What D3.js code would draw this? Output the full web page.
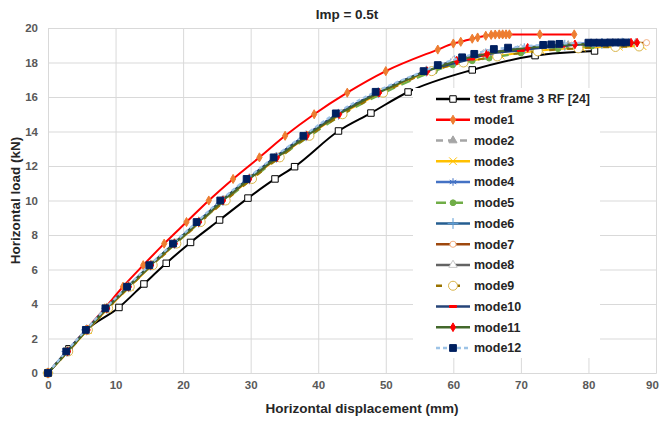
<!DOCTYPE html>
<html>
<head>
<meta charset="utf-8">
<script src="https://cdn.jsdelivr.net/npm/d3@7"></script>
<style>
  body { margin: 0; background: #fff; }
  svg { font-family: "Liberation Sans", Arial, sans-serif; }
</style>
</head>
<body>
<script>
const W = 660, H = 421
const margin = {top: 28, left: 48, bottom: 48, right: 4}

const xTicks = [0, 10, 20, 30, 40, 50, 60, 70, 80, 90]
const yTicks = [0, 2, 4, 6, 8, 10, 12, 14, 16, 18, 20]

// test frame
const testX = [0, 3.1, 5.7, 10.5, 14.2, 17.5, 21.1, 25.4, 29.6, 33.6, 36.5, 43.0, 47.8, 53.3, 62.8, 72.1, 80.9]
const testY = [0, 1.4, 2.5, 3.8, 5.16, 6.36, 7.57, 8.87, 10.14, 11.25, 11.96, 14.03, 15.07, 16.29, 17.57, 18.4, 18.67]

const mode1X = [0, 2.8, 5.6, 8.4, 11.1, 14.1, 17.2, 20.5, 23.8, 27.4, 31.3, 35.1, 39.4, 44.3, 50.0, 57.7, 60.0, 61.1, 62.8, 63.6, 64.8, 65.6, 66.2, 66.8, 67.3, 67.8, 68.3, 72.8, 77.9]
const mode1Y = [0, 1.25, 2.5, 3.75, 5, 6.25, 7.5, 8.75, 10, 11.25, 12.5, 13.75, 15, 16.25, 17.5, 18.75, 19.1, 19.2, 19.38, 19.45, 19.55, 19.6, 19.62, 19.63, 19.63, 19.63, 19.63, 19.63, 19.63]

const mode2X = [0, 2.9, 5.8, 8.8, 12.0, 15.3, 18.8, 22.4, 26.0, 29.8, 33.9, 38.3, 43.1, 49.0, 56.0, 60.5, 65.5, 71.0, 77.0, 83.0, 87.0]
const mode2Y = [0, 1.25, 2.5, 3.75, 5, 6.25, 7.5, 8.75, 10, 11.25, 12.5, 13.75, 15, 16.25, 17.5, 18.1, 18.5, 18.8, 19.0, 19.1, 19.12]

const mode3X = [0, 3.0, 5.9, 8.9, 12.1, 15.4, 18.9, 22.5, 26.1, 30.0, 34.1, 38.5, 43.4, 49.4, 56.6, 61.5, 67.0, 73.0, 79.0, 84.5, 88.0]
const mode3Y = [0, 1.25, 2.5, 3.75, 5, 6.25, 7.5, 8.75, 10, 11.25, 12.5, 13.75, 15, 16.25, 17.5, 18.0, 18.4, 18.7, 18.85, 18.92, 18.95]

const mode4X = [0, 2.8, 5.7, 8.6, 11.8, 15.1, 18.6, 22.1, 25.7, 29.6, 33.6, 38.0, 42.8, 48.7, 55.8, 60.0, 64.5, 70.0, 76.0, 82.0, 86.0]
const mode4Y = [0, 1.25, 2.5, 3.75, 5, 6.25, 7.5, 8.75, 10, 11.25, 12.5, 13.75, 15, 16.25, 17.5, 18.1, 18.5, 18.85, 19.05, 19.15, 19.18]

const mode5X = [0, 2.9, 5.8, 8.8, 12.0, 15.4, 18.9, 22.5, 26.2, 30.2, 34.3, 38.8, 43.7, 49.8, 57.2, 59.9, 62.8, 65.3, 70.0, 75.5, 80.5]
const mode5Y = [0, 1.25, 2.5, 3.75, 5, 6.25, 7.5, 8.75, 10, 11.25, 12.5, 13.75, 15, 16.25, 17.5, 17.86, 18.1, 18.25, 18.55, 18.8, 18.95]

const mode6X = [0, 2.8, 5.7, 8.7, 11.9, 15.2, 18.7, 22.3, 25.9, 29.8, 33.8, 38.2, 43.0, 48.9, 56.0, 60.2, 64.8, 70.5, 76.5, 82.0, 85.0]
const mode6Y = [0, 1.25, 2.5, 3.75, 5, 6.25, 7.5, 8.75, 10, 11.25, 12.5, 13.75, 15, 16.25, 17.5, 18.1, 18.5, 18.8, 19.0, 19.1, 19.12]

const mode7X = [0, 2.9, 5.8, 8.8, 12.0, 15.3, 18.8, 22.4, 26.0, 29.9, 34.0, 38.4, 43.2, 49.1, 56.2, 60.5, 65.0, 71.0, 77.5, 84.0, 88.6]
const mode7Y = [0, 1.25, 2.5, 3.75, 5, 6.25, 7.5, 8.75, 10, 11.25, 12.5, 13.75, 15, 16.25, 17.5, 18.1, 18.5, 18.8, 19.0, 19.12, 19.15]

const mode8X = [0, 2.8, 5.7, 8.7, 11.9, 15.2, 18.7, 22.3, 25.8, 29.7, 33.7, 38.1, 42.9, 48.8, 55.9, 60.0, 64.5, 70.0, 76.0, 81.0, 84.0]
const mode8Y = [0, 1.25, 2.5, 3.75, 5, 6.25, 7.5, 8.75, 10, 11.25, 12.5, 13.75, 15, 16.25, 17.5, 18.1, 18.5, 18.8, 19.0, 19.08, 19.1]

const mode9X = [0, 3.0, 5.9, 8.9, 12.1, 15.5, 19.0, 22.6, 26.3, 30.2, 34.3, 38.7, 43.6, 49.6, 56.8, 61.5, 66.5, 72.5, 78.5, 84.0, 87.5]
const mode9Y = [0, 1.25, 2.5, 3.75, 5, 6.25, 7.5, 8.75, 10, 11.25, 12.5, 13.75, 15, 16.25, 17.5, 18.0, 18.35, 18.65, 18.82, 18.9, 18.93]

const mode10X = [0, 2.8, 5.7, 8.6, 11.8, 15.1, 18.6, 22.2, 25.7, 29.6, 33.6, 38.0, 42.8, 48.8, 56.0, 62.6, 64.6, 70.0, 76.0, 82.0, 86.0]
const mode10Y = [0, 1.25, 2.5, 3.75, 5, 6.25, 7.5, 8.75, 10, 11.25, 12.5, 13.75, 15, 16.25, 17.5, 18.2, 18.43, 18.7, 18.95, 19.08, 19.1]

const mode11X = [0, 2.9, 5.8, 8.7, 11.9, 15.2, 18.7, 22.3, 25.9, 29.8, 33.9, 38.3, 43.1, 49.0, 56.1, 60.5, 65.0, 71.0, 78.0, 86.3, 87.2]
const mode11Y = [0, 1.25, 2.5, 3.75, 5, 6.25, 7.5, 8.75, 10, 11.25, 12.5, 13.75, 15, 16.25, 17.5, 18.1, 18.5, 18.85, 19.05, 19.15, 19.15]

const mode12X = [0, 2.7, 5.6, 8.5, 11.7, 15.0, 18.5, 22.0, 25.5, 29.4, 33.4, 37.8, 42.6, 48.5, 55.6, 57.7, 61.3, 63.1, 66.0, 68.1, 73.3, 74.5, 75.7, 80.0, 80.8, 81.6, 82.4, 83.2, 84.0, 84.8, 85.6]
const mode12Y = [0, 1.25, 2.5, 3.75, 5, 6.25, 7.5, 8.75, 10, 11.25, 12.5, 13.75, 15.05, 16.3, 17.5, 17.85, 18.3, 18.5, 18.78, 18.86, 19.02, 19.05, 19.08, 19.15, 19.15, 19.15, 19.15, 19.16, 19.16, 19.16, 19.16]

const seriesNames = ['test frame 3 RF [24]', 'mode1', 'mode2', 'mode3', 'mode4', 'mode5', 'mode6',
                     'mode7', 'mode8', 'mode9', 'mode10', 'mode11', 'mode12']

// styles
const styles = [
  {line: '#000000', w: 2, dash: null, sym: d3.symbolSquare, size: 42, fill: '#fff', stroke: '#000'},
  {line: '#ff0000', w: 2, dash: null, sym: d3.symbolDiamond, size: 24, fill: '#ed7d31', stroke: '#ed7d31'},
  {line: '#a5a5a5', w: 2, dash: '7,5', sym: d3.symbolTriangle, size: 28, fill: '#a5a5a5', stroke: '#a5a5a5'},
  {line: '#ffc000', w: 2, dash: null, sym: d3.symbolTimes, size: 40, fill: 'none', stroke: '#ffc000'},
  {line: '#4472c4', w: 2, dash: null, sym: d3.symbolAsterisk, size: 40, fill: 'none', stroke: '#4472c4'},
  {line: '#70ad47', w: 2, dash: '10,7', sym: d3.symbolCircle, size: 26, fill: '#70ad47', stroke: '#70ad47'},
  {line: '#255e91', w: 2, dash: null, sym: d3.symbolPlus, size: 40, fill: 'none', stroke: '#5b9bd5'},
  {line: '#9e480e', w: 2, dash: null, sym: d3.symbolCircle, size: 30, fill: '#fff', stroke: '#f4b183'},
  {line: '#636363', w: 2, dash: null, sym: d3.symbolTriangle, size: 30, fill: '#fff', stroke: '#c9c9c9'},
  {line: '#997300', w: 2, dash: '6,12', sym: d3.symbolCircle, size: 64, fill: '#fff', stroke: '#d9b54a'},
  {line: '#264478', w: 2, dash: null, sym: null, size: 0, fill: '#ff0000', stroke: '#ff0000'},
  {line: '#43682b', w: 2, dash: null, sym: d3.symbolDiamond, size: 22, fill: '#ff0000', stroke: '#ff0000'},
  {line: '#9dc3e6', w: 2.2, dash: '4,3', sym: d3.symbolSquare, size: 46, fill: '#002060', stroke: '#002060'}
]

const allX = [testX, mode1X, mode2X, mode3X, mode4X, mode5X, mode6X, mode7X, mode8X, mode9X, mode10X, mode11X, mode12X]
const allY = [testY, mode1Y, mode2Y, mode3Y, mode4Y, mode5Y, mode6Y, mode7Y, mode8Y, mode9Y, mode10Y, mode11Y, mode12Y]

const series = seriesNames.map((name, i) => ({
  name: name,
  style: styles[i],
  pts: allX[i].map((x, j) => [x, allY[i][j]])
}))

let x = d3.scaleLinear().domain([0, 90]).range([margin.left, W - margin.right])
let y = d3.scaleLinear().domain([0, 20]).range([H - margin.bottom, margin.top])

let svg = d3.select('body').append('svg')
  .attr('width', W)
  .attr('height', H)

svg.append('rect').attr('width', W).attr('height', H).attr('fill', '#fff')

// grid + axes
let gx = svg.append('g')
  .attr('transform', `translate(0, ${H - margin.bottom})`)
  .call(d3.axisBottom(x).tickValues(xTicks).tickSize(-(H - margin.bottom - margin.top)).tickPadding(8))
gx.selectAll('line').attr('stroke', '#d9d9d9')
gx.select('.domain').attr('stroke', '#d9d9d9')
// last label sits at the very edge, pull it in a little
gx.selectAll('.tick text').filter(d => d === 90).attr('dx', -4)

let gy = svg.append('g')
  .attr('transform', `translate(${margin.left}, 0)`)
  .call(d3.axisLeft(y).tickValues(yTicks).tickSize(-(W - margin.left - margin.right)).tickPadding(10))
gy.selectAll('line').attr('stroke', '#d9d9d9')
gy.select('.domain').remove()

svg.selectAll('.tick text')
  .attr('font-family', '"Liberation Sans", Arial, sans-serif')
  .attr('font-size', 11.5)
  .attr('font-weight', 'bold')
  .attr('fill', '#595959')

const symPath = (st) => st.sym ? d3.symbol().type(st.sym).size(st.size)() : 'M-3.5,-1H3.5V1H-3.5Z'

let line = d3.line().x(d => x(d[0])).y(d => y(d[1])).curve(d3.curveMonotoneX)

let plot = svg.append('g')
series.forEach(s => {
  let g = plot.append('g')
  g.append('path')
    .attr('d', line(s.pts))
    .attr('fill', 'none')
    .attr('stroke', s.style.line)
    .attr('stroke-width', s.style.w)
    .attr('stroke-dasharray', s.style.dash)
  g.selectAll('.mk')
    .data(s.pts)
    .enter()
    .append('path')
    .attr('transform', d => `translate(${x(d[0])},${y(d[1])})`)
    .attr('d', symPath(s.style))
    .attr('fill', s.style.fill)
    .attr('stroke', s.style.stroke)
    .attr('stroke-width', 1)
})

// legend
let lg = svg.append('g')
lg.append('rect')
  .attr('x', 413).attr('y', 88)
  .attr('width', 187).attr('height', 270)
  .attr('fill', '#fff')

series.forEach((s, i) => {
  let yy = 99 + i * 20.75
  lg.append('line')
    .attr('x1', 436).attr('x2', 470)
    .attr('y1', yy).attr('y2', yy)
    .attr('stroke', s.style.line)
    .attr('stroke-width', s.style.w + 0.5)
    .attr('stroke-dasharray', s.style.dash)
  lg.append('path')
    .attr('transform', `translate(453,${yy})`)
    .attr('d', symPath(s.style))
    .attr('fill', s.style.fill)
    .attr('stroke', s.style.stroke)
    .attr('stroke-width', 1)
  lg.append('text')
    .attr('x', 474).attr('y', yy)
    .attr('dy', '0.35em')
    .attr('font-size', 12.5)
    .attr('font-weight', 'bold')
    .attr('fill', '#262626')
    .text(s.name)
})

// titles
svg.append('text')
  .attr('x', 347).attr('y', 19)
  .attr('text-anchor', 'middle')
  .attr('font-size', 13.5)
  .attr('font-weight', 'bold')
  .attr('fill', '#262626')
  .text('Imp = 0.5t')

svg.append('text')
  .attr('x', 362).attr('y', 413)
  .attr('text-anchor', 'middle')
  .attr('font-size', 13.5)
  .attr('font-weight', 'bold')
  .attr('fill', '#262626')
  .text('Horizontal displacement (mm)')

svg.append('text')
  .attr('transform', `translate(20, ${(margin.top + H - margin.bottom) / 2}) rotate(-90)`)
  .attr('text-anchor', 'middle')
  .attr('font-size', 13.5)
  .attr('font-weight', 'bold')
  .attr('fill', '#262626')
  .text('Horizontal load (kN)')
</script>
</body>
</html>
